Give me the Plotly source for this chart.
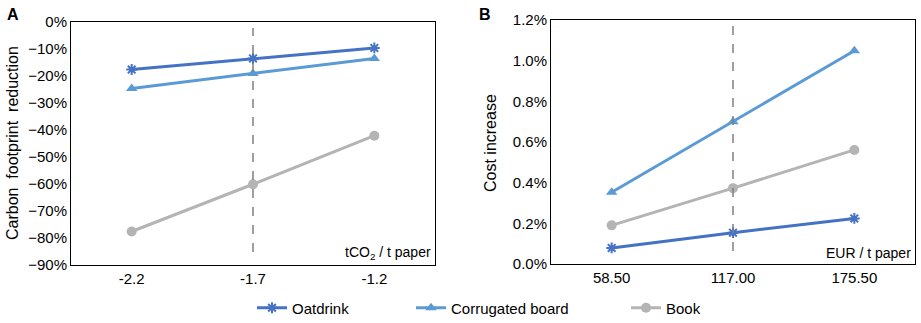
import plotly.graph_objects as go

# ---- data ----
co2_price_labels = ["-2.2", "-1.7", "-1.2"]
cost_labels = ["58.50", "117.00", "175.50"]

carbon_oatdrink = [-17.6, -13.5, -9.6]
carbon_corrugated = [-24.6, -19.1, -13.5]
carbon_book = [-77.6, -60.1, -42.1]

cost_oatdrink = [0.079, 0.154, 0.224]
cost_corrugated = [0.353, 0.699, 1.049]
cost_book = [0.19, 0.373, 0.561]

series_names = ["Oatdrink", "Corrugated board", "Book"]
colors = ["#4472C4", "#5B9BD5", "#B4B4B4"]
symbols = ["asterisk-open", "triangle-up", "circle"]
legend_ids = ["legend", "legend2", "legend3"]
legend_x_px = [252, 411, 626]

FONT = "Liberation Sans, Arial, sans-serif"
W, H = 921, 323

fig = go.Figure()

a_vals = [carbon_oatdrink, carbon_corrugated, carbon_book]
b_vals = [cost_oatdrink, cost_corrugated, cost_book]


def marker(i):
    return dict(symbol=symbols[i], size=9 if i == 0 else 10, color=colors[i],
                line=dict(color=colors[i], width=2 if i == 0 else 0))


for i, name in enumerate(series_names):
    fig.add_trace(go.Scatter(
        x=co2_price_labels, y=a_vals[i], name=name, mode="lines+markers",
        line=dict(color=colors[i], width=3), marker=marker(i),
        xaxis="x", yaxis="y", showlegend=True, legend=legend_ids[i]))
for i, name in enumerate(series_names):
    fig.add_trace(go.Scatter(
        x=cost_labels, y=b_vals[i], name=name, mode="lines+markers",
        line=dict(color=colors[i], width=3), marker=marker(i),
        xaxis="x2", yaxis="y2", showlegend=False))

axis_common = dict(showline=True, linecolor="black", linewidth=1, mirror=True,
                   showgrid=False, zeroline=False, ticks="", automargin=False,
                   tickfont=dict(family=FONT, size=15, color="black"))

legends = {}
for i, lid in enumerate(legend_ids):
    legends[lid] = dict(orientation="h", x=legend_x_px[i] / W, xanchor="left",
                        y=1 - 308 / H, yanchor="middle", itemwidth=30,
                        font=dict(family=FONT, size=15, color="black"),
                        bgcolor="rgba(0,0,0,0)")

fig.update_layout(
    width=W, height=H,
    margin=dict(l=0, r=0, t=0, b=0, autoexpand=False),
    paper_bgcolor="white", plot_bgcolor="white",
    font=dict(family=FONT, size=15, color="black"),
    xaxis=dict(domain=[71 / W, 435 / W], type="category", range=[-0.5, 2.5],
               anchor="y", **axis_common),
    yaxis=dict(domain=[1 - 265 / H, 1 - 22 / H], range=[-90, 0], dtick=10, ticksuffix="%",
               anchor="x", **axis_common),
    xaxis2=dict(domain=[551 / W, 915 / W], type="category", range=[-0.5, 2.5],
                anchor="y2", **axis_common),
    yaxis2=dict(domain=[1 - 264 / H, 1 - 20 / H], range=[0, 1.2], dtick=0.2, tickformat=".1f",
                ticksuffix="%", anchor="x2", **axis_common),
    shapes=[
        dict(type="line", xref="x", yref="y domain", x0=1, x1=1, y0=0.053, y1=0.975,
             line=dict(color="#808080", width=1.5, dash="dash")),
        dict(type="line", xref="x2", yref="y2 domain", x0=1, x1=1, y0=0.053, y1=0.975,
             line=dict(color="#808080", width=1.5, dash="dash")),
    ],
    annotations=[
        dict(text="<b>A</b>", x=13 / W, y=1 - 14 / H, xref="paper", yref="paper",
             xanchor="center", yanchor="middle", showarrow=False,
             font=dict(family=FONT, size=16)),
        dict(text="<b>B</b>", x=485 / W, y=1 - 14 / H, xref="paper", yref="paper",
             xanchor="center", yanchor="middle", showarrow=False,
             font=dict(family=FONT, size=16)),
        dict(text="Carbon  footprint  reduction", x=12 / W, y=1 - 143 / H,
             xref="paper", yref="paper", xanchor="center", yanchor="middle",
             textangle=-90, showarrow=False, font=dict(family=FONT, size=16)),
        dict(text="Cost increase", x=490 / W, y=1 - 143 / H,
             xref="paper", yref="paper", xanchor="center", yanchor="middle",
             textangle=-90, showarrow=False, font=dict(family=FONT, size=16)),
        dict(text="tCO<sub>2</sub> / t paper", xref="x domain", yref="y domain",
             x=0.995, y=0.005, xanchor="right", yanchor="bottom", showarrow=False,
             font=dict(family=FONT, size=14)),
        dict(text="EUR / t paper", xref="x2 domain", yref="y2 domain",
             x=0.995, y=0.005, xanchor="right", yanchor="bottom", showarrow=False,
             font=dict(family=FONT, size=14)),
    ],
    **legends,
)

fig.write_html("out.html", config={"displayModeBar": False},
               post_script="document.body.style.margin='0';document.body.style.overflow='hidden';")
